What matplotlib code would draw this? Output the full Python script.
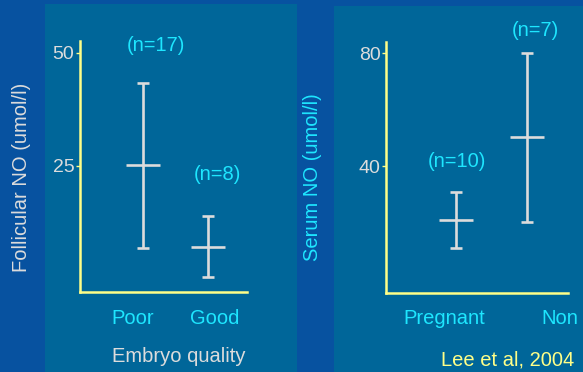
import matplotlib.pyplot as plt
from matplotlib.patches import Rectangle
from matplotlib.transforms import offset_copy

plt.rcParams['font.family'] = ['Liberation Sans', 'DejaVu Sans']

# follicular NO by embryo quality
quality = ['Poor', 'Good']
foll_mean = [25.2, 7.1]
foll_low = [6.9, 0.4]
foll_high = [43.4, 13.9]
foll_n = ['(n=17)', '(n=8)']

# serum NO by pregnancy outcome
outcome = ['Pregnant', 'Non']
serum_mean = [20.9, 50.3]
serum_low = [11.0, 20.2]
serum_high = [30.8, 80.0]
serum_n = ['(n=10)', '(n=7)']

W, H = 583, 372
BG = '#0752a0'
PANEL = '#006699'
CYAN = '#1ee6ff'
GREY = '#dcdcdc'
YELLOW = '#ffff88'
FS = 14.5
LW = 1.9

fig = plt.figure(figsize=(W / 100, H / 100), dpi=100)
fig.patch.set_facecolor(BG)


def px_rect(x0, y0, x1, y1):
    # pixel box (top-down) -> figure fraction [left, bottom, width, height]
    return [x0 / W, (H - y1) / H, (x1 - x0) / W, (y1 - y0) / H]


for box in [(45, 4, 297, 372), (334, 6, 590, 372)]:
    l, b, w, h = px_rect(*box)
    fig.patches.append(Rectangle((l, b), w, h, transform=fig.transFigure,
                                 facecolor=PANEL, edgecolor='none', zorder=-10))


def panel(rect, xlim, ylim, yticks, means, lows, highs, cats, cat_dx, ns, n_dx, n_dy):
    ax = fig.add_axes(px_rect(*rect))
    ax.patch.set_alpha(0)
    xs = list(range(len(cats)))
    err = [[m - lo for m, lo in zip(means, lows)], [hi - m for m, hi in zip(means, highs)]]
    ax.errorbar(xs, means, yerr=err, fmt='_', color=GREY, ecolor=GREY,
                elinewidth=LW, capsize=4.3, capthick=LW,
                markersize=24.5, markeredgewidth=LW)
    ax.set_xlim(*xlim)
    ax.set_ylim(*ylim)
    for s in ['top', 'right']:
        ax.spines[s].set_visible(False)
    for s in ['left', 'bottom']:
        ax.spines[s].set_color(YELLOW)
        ax.spines[s].set_linewidth(1.8)
    ax.set_yticks(yticks)
    ax.tick_params(axis='y', colors=YELLOW, length=3, width=1, labelcolor=GREY,
                   labelsize=14, pad=1)
    ax.set_xticks([])
    # category names 26 px under the x axis
    for x, lab, dx in zip(xs, cats, cat_dx):
        tr = offset_copy(ax.get_xaxis_transform(), fig=fig, x=dx * 0.72, y=-26 * 0.72,
                         units='points')
        ax.text(x, 0, lab, transform=tr, color=CYAN, fontsize=FS,
                ha='center', va='center', clip_on=False)
    for x, hi, lab, dx, dy in zip(xs, highs, ns, n_dx, n_dy):
        ax.annotate(lab, (x, hi), xytext=(dx * 0.72, dy * 0.72), textcoords='offset points',
                    color=CYAN, fontsize=FS, ha='center', va='center')
    return ax


ax1 = panel((80, 41, 247, 292), (-0.97, 1.6), (-2.88, 52.65), [25, 50],
            foll_mean, foll_low, foll_high, quality, [-10, 7], foll_n, [13, 9], [37, 42])
ax2 = panel((386, 42, 568, 293), (-0.986, 1.577), (-4.96, 83.9), [40, 80],
            serum_mean, serum_low, serum_high, outcome, [-12, 33], serum_n, [1, 8], [30, 23])

fig.text(22 / W, 1 - 177 / H, 'Follicular NO (umol/l)', rotation=90, color=GREY,
         fontsize=FS, ha='center', va='center')
fig.text(313 / W, 1 - 177 / H, 'Serum NO (umol/l)', rotation=90, color=CYAN,
         fontsize=FS, ha='center', va='center')
fig.text(179 / W, 1 - 357 / H, 'Embryo quality', color=GREY,
         fontsize=FS, ha='center', va='center')
fig.text(574 / W, 1 - 360 / H, 'Lee et al, 2004', color=YELLOW,
         fontsize=FS, ha='right', va='center')

fig.savefig('out.png', dpi=100, facecolor=BG)
